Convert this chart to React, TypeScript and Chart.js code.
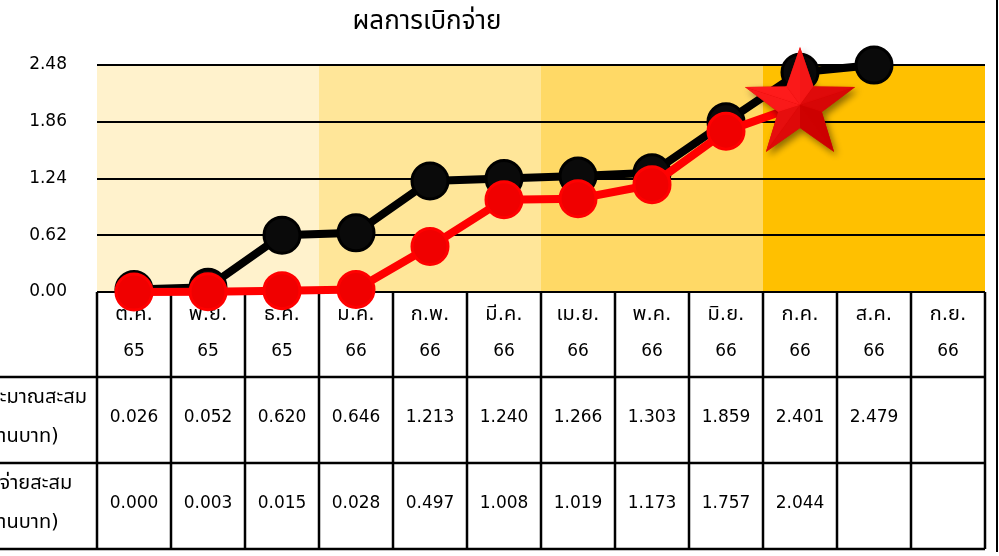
import { useEffect, useRef } from 'react';
import { Chart, registerables } from 'chart.js';
Chart.register(...registerables);

const months = ['ต.ค.', 'พ.ย.', 'ธ.ค.', 'ม.ค.', 'ก.พ.', 'มี.ค.', 'เม.ย.', 'พ.ค.', 'มิ.ย.', 'ก.ค.', 'ส.ค.', 'ก.ย.'];
const years = ['65', '65', '65', '66', '66', '66', '66', '66', '66', '66', '66', '66'];
const budget = [0.026, 0.052, 0.62, 0.646, 1.213, 1.24, 1.266, 1.303, 1.859, 2.401, 2.479, null];
const disbursed = [0.0, 0.003, 0.015, 0.028, 0.497, 1.008, 1.019, 1.173, 1.757, 2.044, null, null];
const yTicks = [0, 0.62, 1.24, 1.86, 2.48];
const rowLabels = [
  ['งบประมาณสะสม', '(ล้านบาท)'],
  ['เบิกจ่ายสะสม', '(ล้านบาท)'],
];
const quarterColors = ['#FFF2CC', '#FFE699', '#FFD966', '#FFC000'];
const titleText = 'ผลการเบิกจ่าย';
const starIndex = 9;

const FONT = "'DejaVu Sans', 'Noto Sans Thai', Tahoma, sans-serif";

function makeStar(): HTMLCanvasElement {
  const c = document.createElement('canvas');
  c.width = 140;
  c.height = 140;
  const ctx = c.getContext('2d')!;
  const cx = 70, cy = 70, R = 58, r = 23;
  const pt = (ang: number, rad: number) => [cx + rad * Math.cos(ang), cy + rad * Math.sin(ang)];
  const outer: number[][] = [];
  const inner: number[][] = [];
  for (let k = 0; k < 5; k++) {
    outer.push(pt(((-90 + 72 * k) * Math.PI) / 180, R));
    inner.push(pt(((-90 + 36 + 72 * k) * Math.PI) / 180, r));
  }
  ctx.save();
  ctx.shadowColor = 'rgba(0,0,0,0.45)';
  ctx.shadowBlur = 7;
  ctx.shadowOffsetX = 3;
  ctx.shadowOffsetY = 4;
  ctx.beginPath();
  for (let k = 0; k < 5; k++) {
    const o = outer[k];
    const i = inner[k];
    if (k === 0) ctx.moveTo(o[0], o[1]);
    else ctx.lineTo(o[0], o[1]);
    ctx.lineTo(i[0], i[1]);
  }
  ctx.closePath();
  ctx.fillStyle = '#D80000';
  ctx.fill();
  ctx.restore();
  const light = (-135 * Math.PI) / 180;
  const facet = (a: number[], b: number[]) => {
    const mx = (a[0] + b[0]) / 2 - cx;
    const my = (a[1] + b[1]) / 2 - cy;
    const ang = Math.atan2(my, mx);
    const s = (Math.cos(ang - light) + 1) / 2;
    const red = Math.round(205 + 50 * s);
    const gb = Math.round(28 * s);
    ctx.beginPath();
    ctx.moveTo(cx, cy);
    ctx.lineTo(a[0], a[1]);
    ctx.lineTo(b[0], b[1]);
    ctx.closePath();
    ctx.fillStyle = `rgb(${red},${gb},${gb})`;
    ctx.fill();
  };
  for (let k = 0; k < 5; k++) {
    facet(outer[k], inner[k]);
    facet(inner[(k + 4) % 5], outer[k]);
  }
  return c;
}

export default function App() {
  const ref = useRef<HTMLCanvasElement>(null);

  useEffect(() => {
    const star = makeStar();
    const headerH = 85;
    const rowH = 86;

    const tablePlugin = {
      id: 'tablePlugin',
      beforeDraw(chart: any) {
        const { ctx, chartArea } = chart;
        const xs = chart.scales.x;
        const w = (chartArea.right - chartArea.left) / months.length;
        ctx.save();
        ctx.fillStyle = '#ffffff';
        ctx.fillRect(0, 0, chart.width, chart.height);
        quarterColors.forEach((col, q) => {
          const x0 = xs.getPixelForValue(q * 3) - w / 2;
          const x1 = xs.getPixelForValue(q * 3 + 2) + w / 2;
          ctx.fillStyle = col;
          ctx.fillRect(x0, chartArea.top, x1 - x0, chartArea.bottom - chartArea.top);
        });
        ctx.restore();
      },
      beforeDatasetsDraw(chart: any) {
        const { ctx, chartArea } = chart;
        const xs = chart.scales.x;
        const w = (chartArea.right - chartArea.left) / months.length;
        const y0 = chartArea.bottom;
        const y1 = y0 + headerH;
        const y2 = y1 + rowH;
        const y3 = y2 + rowH;
        ctx.save();
        ctx.strokeStyle = '#000';
        ctx.lineWidth = 2.5;
        for (let i = 0; i <= months.length; i++) {
          const x = i < months.length ? xs.getPixelForValue(i) - w / 2 : xs.getPixelForValue(i - 1) + w / 2;
          ctx.beginPath();
          ctx.moveTo(x, y0);
          ctx.lineTo(x, y3);
          ctx.stroke();
        }
        [y1, y2, y3].forEach((y) => {
          ctx.beginPath();
          ctx.moveTo(0, y);
          ctx.lineTo(chartArea.right, y);
          ctx.stroke();
        });
        ctx.fillStyle = '#000';
        ctx.textAlign = 'center';
        ctx.textBaseline = 'middle';
        months.forEach((m, i) => {
          const x = xs.getPixelForValue(i);
          ctx.font = `20px ${FONT}`;
          ctx.fillText(m, x, y0 + 23);
          ctx.font = `17px ${FONT}`;
          ctx.fillText(years[i], x, y0 + 60);
        });
        const rows = [budget, disbursed];
        rows.forEach((arr, r) => {
          const top = y1 + r * rowH;
          ctx.font = `17px ${FONT}`;
          arr.forEach((v, i) => {
            if (v === null || v === undefined) return;
            ctx.fillText(v.toFixed(3), xs.getPixelForValue(i), top + 41);
          });
          const lbl = rowLabels[r];
          ctx.font = `20px ${FONT}`;
          ctx.fillText(lbl[0], 21, top + 21);
          ctx.fillText(lbl[1], 19, top + 60);
        });
        ctx.restore();
      },
      afterDraw(chart: any) {
        const { ctx } = chart;
        ctx.save();
        ctx.fillStyle = '#000';
        ctx.textAlign = 'center';
        ctx.textBaseline = 'middle';
        ctx.font = `26px ${FONT}`;
        ctx.fillText(titleText, 427, 22);
        ctx.strokeStyle = '#000';
        ctx.lineWidth = 2;
        ctx.beginPath();
        ctx.moveTo(997, 0);
        ctx.lineTo(997, 552);
        ctx.stroke();
        ctx.restore();
      },
    };

    const redStyles = disbursed.map((_, i) => (i === starIndex ? star : 'circle'));

    const chart = new Chart(ref.current!, {
      type: 'line',
      data: {
        labels: months.map((m, i) => `${m} ${years[i]}`),
        datasets: [
          {
            label: 'เบิกจ่ายสะสม',
            data: disbursed,
            borderColor: '#FF0000',
            backgroundColor: '#FF0000',
            borderWidth: 8,
            pointStyle: redStyles as any,
            pointRadius: 18,
            pointBorderWidth: 3,
            pointBorderColor: '#FF0000',
            pointBackgroundColor: '#F00000',
            clip: false as any,
            order: 0,
            tension: 0,
          },
          {
            label: 'งบประมาณสะสม',
            data: budget,
            borderColor: '#000000',
            backgroundColor: '#000000',
            borderWidth: 8,
            pointStyle: 'circle',
            pointRadius: 18,
            pointBorderWidth: 3,
            pointBorderColor: '#000000',
            pointBackgroundColor: '#0a0a0a',
            clip: false as any,
            order: 1,
            tension: 0,
          },
        ],
      },
      options: {
        responsive: false,
        animation: false,
        events: [],
        layout: { autoPadding: false, padding: { top: 65, right: 14, left: 0, bottom: 0 } },
        plugins: {
          legend: { display: false },
          title: { display: false },
          tooltip: { enabled: false },
        },
        scales: {
          x: {
            offset: true,
            grid: { display: false },
            border: { display: false },
            ticks: { display: false },
            afterFit(scale: any) {
              scale.height = 264;
            },
          },
          y: {
            min: 0,
            max: 2.48,
            grid: { color: '#000', lineWidth: 2, drawTicks: false },
            border: { display: false },
            afterBuildTicks(scale: any) {
              scale.ticks = yTicks.map((v) => ({ value: v }));
            },
            ticks: {
              color: '#000',
              font: { family: FONT, size: 17 },
              padding: 30,
              callback: (v: any) => Number(v).toFixed(2),
            },
            afterFit(scale: any) {
              scale.width = 97;
            },
          },
        },
      },
      plugins: [tablePlugin],
    } as any);

    return () => chart.destroy();
  }, []);

  return (
    <div style={{ position: 'absolute', left: 0, top: 0, width: 999, height: 556, background: '#fff' }}>
      <canvas ref={ref} width={999} height={556} style={{ display: 'block' }} />
    </div>
  );
}
